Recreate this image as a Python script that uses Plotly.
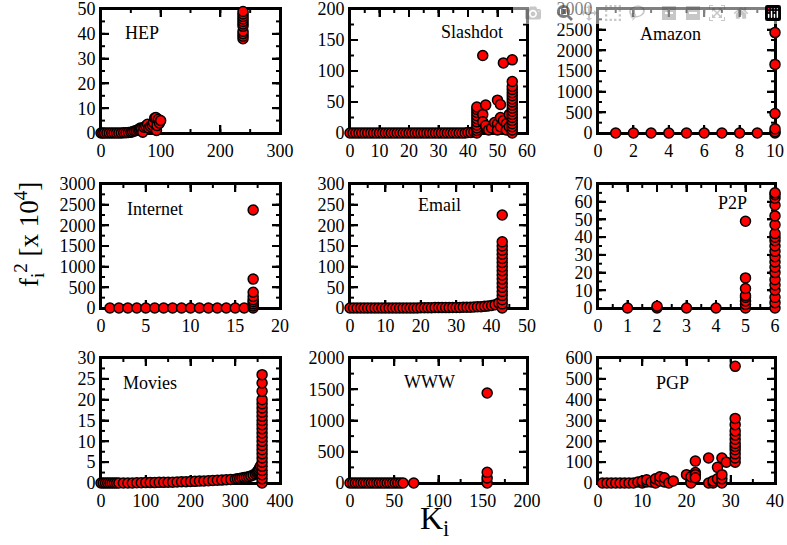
import numpy as np
import plotly.graph_objects as go

# ---------------- data ----------------
hep_x = [0, 3, 6, 10, 14, 18, 22, 26, 30, 34, 38, 42, 46, 50, 53, 56, 59, 62, 64, 66, 68, 70, 72, 75, 78, 80, 83, 86, 88, 90, 92, 93, 94, 96, 98, 100,
         238, 238, 238, 238, 238, 238, 238, 238, 238, 238, 238]
hep_y = [0, 0, 0, 0, 0, 0, 0, 0, 0, 0, 0.1, 0.1, 0.2, 0.3, 0.5, 0.8, 1.0, 1.3, 1.6, 2.0, 1.8, 0.3, 2.3, 2.8, 3.5, 2.0, 2.6, 3.2, 4.2, 6.0, 6.2, 1.0, 3.0, 5.5, 4.0, 5.0,
         38, 39, 40, 41, 43, 44, 45, 46, 47, 48, 49]

slash_x = [0, 1, 2, 3, 4, 5, 6, 7, 8, 9, 10, 11, 12, 13, 14, 15, 16, 17, 18, 19, 20, 21, 22, 23, 24, 25, 26, 27, 28, 29, 30, 31, 32, 33, 34, 35, 36, 37, 38, 39, 40, 41, 42,
           43, 43, 43, 43, 43, 43, 43, 43, 43, 43,
           45, 45, 45, 46, 46, 47, 48, 49, 50, 50, 50, 51, 51, 51, 52, 52, 53, 53, 54, 54,
           55, 55, 55, 55, 55, 55, 55, 55, 55, 55, 55, 55, 55, 55, 55, 55, 55, 55]
slash_y = [0, 0, 0, 0, 0, 0, 0, 0, 0, 0, 0, 0, 0, 0, 0, 0, 0, 0, 0, 0, 0, 0, 0, 0, 0, 0, 0, 0, 0, 0, 0, 0, 0, 0, 0, 0, 0, 0, 0, 0, 1, 1, 2,
           0, 4, 8, 13, 18, 23, 28, 33, 38, 42,
           125, 30, 18, 45, 12, 5, 8, 17, 53, 15, 5, 46, 25, 10, 113, 20, 15, 5, 30, 10,
           0, 5, 10, 15, 20, 25, 30, 35, 40, 45, 50, 55, 60, 65, 70, 75, 83, 118, 122]

amazon_x = [1, 2, 3, 4, 5, 6, 7, 8, 9, 10, 10, 10, 10, 10, 10]
amazon_y = [0, 0, 0, 0, 0, 0, 0, 0, 0, 0, 30, 100, 470, 1660, 2430]

internet_x = [1, 2, 3, 4, 5, 6, 7, 8, 9, 10, 11, 12, 13, 14, 15, 16, 17, 17, 17, 17, 17, 17, 17, 17, 17]
internet_y = [0, 0, 0, 0, 0, 0, 0, 0, 0, 0, 0, 0, 0, 0, 0, 0, 0, 50, 100, 150, 200, 280, 380, 700, 2370]

email_x = [0, 1, 2, 3, 4, 5, 6, 7, 8, 9, 10, 11, 12, 13, 14, 15, 16, 17, 18, 19, 20, 21, 22, 23, 24, 25, 26, 27, 28, 29, 30, 31, 32, 33, 34, 35, 36, 37, 38, 39, 40, 41, 42,
           43, 43, 43, 43, 43, 43, 43, 43, 43, 43, 43, 43, 43, 43, 43, 43, 43, 43]
email_y = [0, 0, 0, 0, 0, 0, 0, 0, 0, 0, 0, 0, 0, 0, 0, 0, 0, 0, 0, 0, 0.5, 0.5, 0.5, 0.5, 1, 1, 1, 1, 1, 1.5, 1.5, 1.5, 2, 2, 2, 2.5, 3, 3, 4, 5, 6, 8, 12,
           0, 10, 20, 30, 40, 50, 60, 70, 80, 90, 100, 110, 120, 130, 140, 150, 160, 225]

p2p_x = [1, 2, 2, 3, 4, 5, 5, 5, 5, 5, 5, 5, 5,
         6, 6, 6, 6, 6, 6, 6, 6, 6, 6, 6, 6, 6, 6, 6, 6, 6, 6, 6, 6, 6]
p2p_y = [0, 0, 1, 0, 0, 0, 2, 4, 6, 7, 11, 17, 49,
         0, 3, 6, 10, 13, 16, 20, 23, 26, 29, 32, 35, 38, 40, 42, 47, 52, 58, 62, 64, 65]

movies_x = [0, 5, 10, 15, 20, 25, 30, 35, 40, 50, 60, 70, 80, 90, 100, 110, 120, 130, 140, 150, 160, 170, 180, 190, 200, 210, 220, 230, 240, 250, 260, 270, 280, 290, 300, 305, 310, 315, 320, 325, 330, 335, 340, 345, 348, 350, 352, 354, 356,
            360, 360, 360, 360, 360, 360, 360, 360, 360, 360, 360, 360, 360, 360, 360, 360, 360, 360, 360, 360, 360, 360, 360, 360]
movies_y = [0, 0, 0, 0, 0, 0, 0, 0, 0, 0, 0, 0, 0.05, 0.05, 0.1, 0.1, 0.1, 0.15, 0.15, 0.2, 0.2, 0.25, 0.3, 0.3, 0.35, 0.4, 0.45, 0.5, 0.55, 0.6, 0.65, 0.7, 0.8, 0.85, 0.9, 1.0, 1.1, 1.2, 1.3, 1.4, 1.5, 1.7, 1.9, 2.2, 2.5, 2.8, 3.1, 3.5, 4.0,
            0, 1, 2, 3, 4, 5, 6, 7, 8, 9, 10, 11, 12, 13, 14, 15, 16, 17, 18, 19, 20, 22, 24, 26]

www_x = [0, 3, 6, 9, 12, 15, 18, 21, 24, 27, 30, 33, 36, 39, 42, 45, 48, 51, 54, 57, 60, 72, 155, 155, 155, 155]
www_y = [0, 0, 0, 0, 0, 0, 0, 0, 0, 0, 0, 0, 0, 0, 0, 0, 0, 0, 0, 0, 0, 0, 0, 80, 170, 1440]

pgp_x = [1, 2, 3, 4, 5, 6, 7, 8, 9, 10, 10, 11, 11, 12, 13, 13, 14, 14, 15, 15, 16, 17,
         20, 21, 21, 22, 22, 22, 22, 25, 25, 26, 26, 27, 27, 28, 28, 28, 28, 29,
         31, 31, 31, 31, 31, 31, 31, 31, 31, 31, 31, 31]
pgp_y = [0, 0, 0, 0, 0, 0, 0, 0, 5, 0, 10, 5, 15, 5, 0, 20, 10, 30, 5, 25, 0, 10,
         40, 0, 30, 105, 50, 40, 25, 120, 0, 0, 10, 75, 20, 120, 0, 20, 40, 100,
         100, 120, 140, 160, 175, 190, 210, 230, 250, 280, 310, 560]

# name, x, y, x range, x major, x minor, y range, y major, y minor, label px position
panels = [
    ("HEP", hep_x, hep_y, [0, 300], 100, 50, [0, 50], 10, 5, 142, 33),
    ("Slashdot", slash_x, slash_y, [0, 60], 10, 5, [0, 200], 50, 25, 472, 32),
    ("Amazon", amazon_x, amazon_y, [0, 10], 2, 1, [0, 3000], 500, 250, 670, 34),
    ("Internet", internet_x, internet_y, [0, 20], 5, 2.5, [0, 3000], 500, 250, 155, 209),
    ("Email", email_x, email_y, [0, 50], 10, 5, [0, 300], 50, 25, 439, 205),
    ("P2P", p2p_x, p2p_y, [0, 6], 1, 0.5, [0, 70], 10, 5, 732, 203),
    ("Movies", movies_x, movies_y, [0, 400], 100, 50, [0, 30], 5, 2.5, 150, 383),
    ("WWW", www_x, www_y, [0, 200], 50, 25, [0, 2000], 500, 250, 429, 382),
    ("PGP", pgp_x, pgp_y, [0, 40], 10, 5, [0, 600], 100, 50, 672, 383),
]

W, H = 787, 545
col_px = [(101, 280), (350, 527), (598, 775)]
row_px = [(9, 133), (184, 308), (358, 483)]
SERIF = "Liberation Serif, Times New Roman, serif"
MAJOR_LEN, MINOR_LEN, TICK_W = 8, 4, 2

fig = go.Figure()
layout = dict(template="none", width=W, height=H,
              margin=dict(l=0, r=0, t=0, b=0, autoexpand=False),
              paper_bgcolor="white", plot_bgcolor="rgba(0,0,0,0)", showlegend=False,
              font=dict(family=SERIF, color="black", size=18))
annotations = []
shapes = []


def tick_values(rng, step):
    vals = np.arange(rng[0], rng[1] + step * 0.5, step)
    return [float(v) for v in vals if rng[0] < v < rng[1]]


for i, (name, xs, ys, xr, xd, xm, yr, yd, ym, lx, ly) in enumerate(panels):
    r, c = divmod(i, 3)
    n = "" if i == 0 else str(i + 1)
    x0, x1 = col_px[c]
    y0, y1 = row_px[r]
    common = dict(showline=True, linecolor="#000000", linewidth=2, mirror="allticks",
                  ticks="inside", ticklen=MAJOR_LEN, tickwidth=TICK_W, tickcolor="#000000",
                  showgrid=False, zeroline=False, automargin=False, layer="below traces",
                  ticklabeloverflow="allow",
                  tickfont=dict(family=SERIF, size=18, color="black"))
    layout["xaxis" + n] = dict(common, domain=[x0 / W, x1 / W], range=xr, dtick=xd, tick0=0, anchor="y" + n)
    layout["yaxis" + n] = dict(common, domain=[1 - y1 / H, 1 - y0 / H], range=yr, dtick=yd, tick0=0, anchor="x" + n)

    xref, yref = "x" + n, "y" + n
    xdom, ydom = xref + " domain", yref + " domain"
    line_style = dict(color="black", width=TICK_W)
    # frame
    shapes.append(dict(type="rect", xref=xdom, yref=ydom, x0=0, x1=1, y0=0, y1=1,
                       line=dict(color="black", width=2), layer="below"))
    # x ticks (bottom and top), major and minor
    for step, ln in ((xd, MAJOR_LEN), (xm, MINOR_LEN)):
        for v in tick_values(xr, step):
            for anchor, sign in ((0, 1), (1, -1)):
                shapes.append(dict(type="line", xref=xref, yref=ydom, x0=v, x1=v,
                                   ysizemode="pixel", yanchor=anchor, y0=0, y1=sign * ln,
                                   line=line_style, layer="below"))
    # y ticks (left and right), major and minor
    for step, ln in ((yd, MAJOR_LEN), (ym, MINOR_LEN)):
        for v in tick_values(yr, step):
            for anchor, sign in ((0, 1), (1, -1)):
                shapes.append(dict(type="line", xref=xdom, yref=yref, y0=v, y1=v,
                                   xsizemode="pixel", xanchor=anchor, x0=0, x1=sign * ln,
                                   line=line_style, layer="below"))

    fig.add_trace(go.Scatter(x=xs, y=ys, mode="markers", xaxis=xref, yaxis=yref,
                             cliponaxis=False,
                             marker=dict(size=10, color="#ff0000", line=dict(color="black", width=1.5))))
    annotations.append(dict(text=name, x=lx / W, y=1 - ly / H, xref="paper", yref="paper",
                            showarrow=False, xanchor="center", yanchor="middle",
                            font=dict(family=SERIF, size=18, color="black")))

annotations.append(dict(text="f<sub>i</sub><sup>2</sup> [x 10<sup>4</sup>]", x=29 / W, y=1 - 234 / H,
                        xref="paper", yref="paper", showarrow=False, textangle=-90,
                        xanchor="center", yanchor="middle",
                        font=dict(family=SERIF, size=27, color="black")))
annotations.append(dict(text="K<sub>i</sub>", x=434 / W, y=1 - 520 / H,
                        xref="paper", yref="paper", showarrow=False,
                        xanchor="center", yanchor="middle",
                        font=dict(family=SERIF, size=32, color="black")))
layout["annotations"] = annotations
layout["shapes"] = shapes
fig.update_layout(**layout)
fig.write_html("out.html", post_script="document.body.style.margin='0px';")
